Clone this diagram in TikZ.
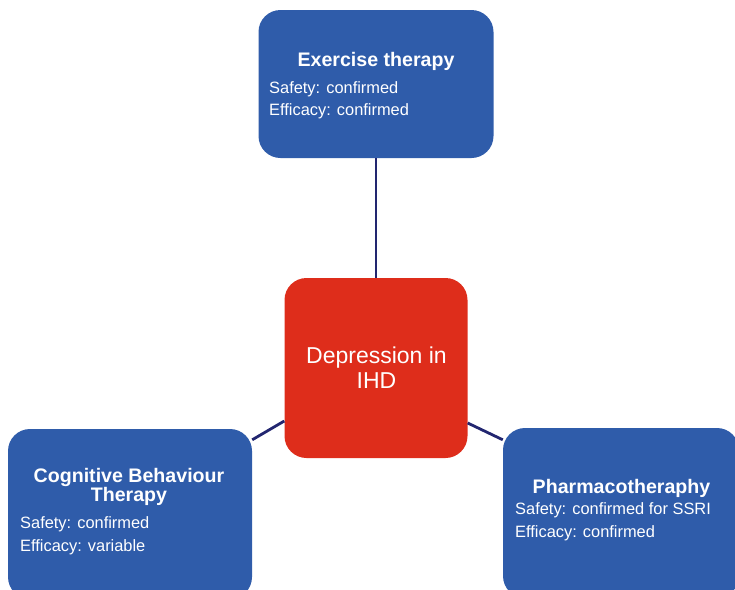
\documentclass[tikz,border=0pt]{standalone}
\usepackage{fontspec}
\setmainfont{Liberation Sans}
\definecolor{boxblue}{RGB}{47,92,170}
\definecolor{boxred}{RGB}{222,45,27}
\definecolor{linknavy}{RGB}{34,38,112}

\begin{document}
\begin{tikzpicture}[x=1pt, y=-1pt,
    bluebox/.style={fill=boxblue, rounded corners=22pt, inner sep=0pt},
    redbox/.style={fill=boxred, rounded corners=22pt, inner sep=0pt},
    ttl/.style={text=white, inner sep=0pt, anchor=base, font=\bfseries\fontsize{19.6}{19.6}\selectfont},
    body/.style={text=white, inner sep=0pt, anchor=base west, font=\fontsize{16.4}{16.4}\selectfont},
    link/.style={draw=linknavy, line width=2.8pt}]
      \useasboundingbox (0,0) rectangle (735,589);
      \clip (0,0) rectangle (735,589);
      %
      \node[bluebox, minimum width=235pt, minimum height=148pt] (ex) at (376,84) {};
      \node[redbox, minimum width=183pt, minimum height=180pt] (dep) at (376,368) {};
      \node[bluebox, minimum width=244pt, minimum height=170pt] (cbt) at (130,514) {};
      \node[bluebox, minimum width=236pt, minimum height=170pt] (pha) at (621,513) {};
      %
      \node[ttl] (extitle) at (376,66) {Exercise therapy};
      \foreach \txt [count=\i] in {Safety: confirmed, Efficacy: confirmed}
        \node[body] (exbody\i) at (269,71+22*\i) {\txt};
      %
      \node[text=white, inner sep=0pt, anchor=base, font=\fontsize{23}{23}\selectfont] (dep1) at (376.5,363) {Depression in};
      \node[text=white, inner sep=0pt, anchor=base, font=\fontsize{23}{23}\selectfont] (dep2) at (376.5,388) {IHD};
      %
      \node[ttl] (cbttitle1) at (129,482) {Cognitive Behaviour};
      \node[ttl] (cbttitle2) at (129,501) {Therapy};
      \foreach \txt [count=\i] in {Safety: confirmed, Efficacy: variable}
        \node[body] (cbtbody\i) at (20,505+23*\i) {\txt};
      %
      \node[ttl] (phatitle) at (621.5,493) {Pharmacotheraphy};
      \foreach \txt [count=\i] in {Safety: confirmed for SSRI, Efficacy: confirmed}
        \node[body] (phabody\i) at (515,491+23*\i) {\txt};
      %
      \draw[link] (ex.south) -- (dep.north);
      \draw[link] ([yshift=-53pt]dep.west) -- ([yshift=-11pt]cbt.north east);
      \draw[link] ([yshift=-55pt]dep.east) -- ([yshift=-12pt]pha.north west);
\end{tikzpicture}
\end{document}
